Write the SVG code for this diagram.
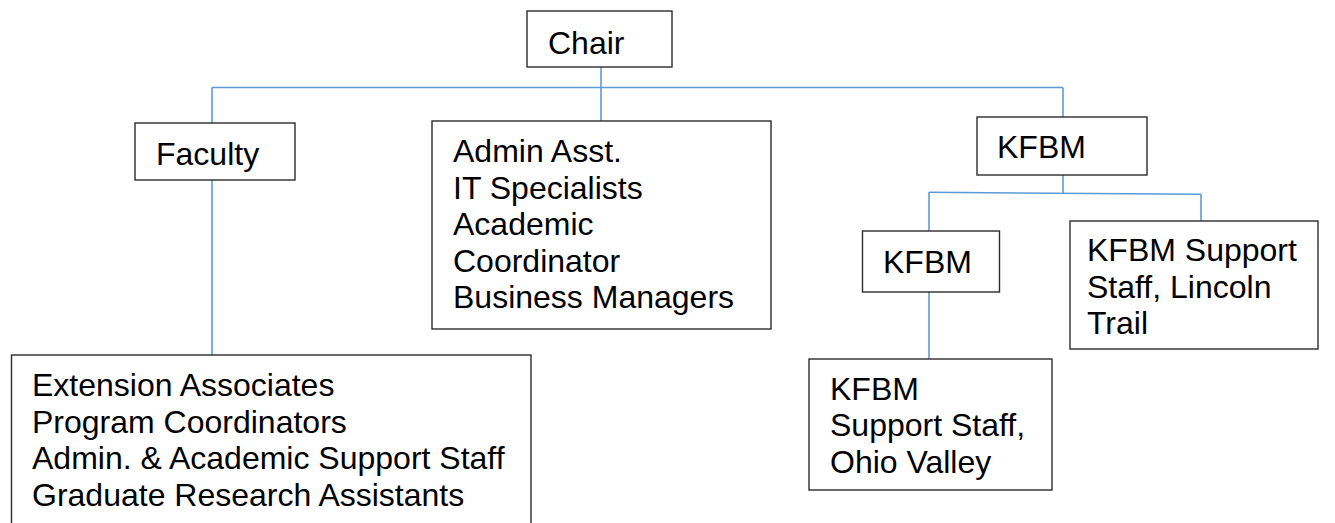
<svg xmlns="http://www.w3.org/2000/svg" width="1335" height="523" viewBox="0 0 1335 523">
  <style>
    .box { fill: #ffffff; stroke: #2b2b2b; stroke-width: 1.4; }
    .lbl { font-family: "Liberation Sans", Arial, sans-serif; font-size: 32px; fill: #000000; }
    .conn { stroke: #5b9bd5; stroke-width: 1.6; fill: none; }
  </style>
  <rect width="1335" height="523" fill="#ffffff"/>

  <!-- connectors -->
  <g id="connectors">
    <line class="conn" x1="601" y1="67" x2="601" y2="121"/>
    <line class="conn" x1="212" y1="87.5" x2="1063" y2="87.5"/>
    <line class="conn" x1="212" y1="87.5" x2="212" y2="123"/>
    <line class="conn" x1="1063" y1="87.5" x2="1063" y2="120"/>
    <line class="conn" x1="212" y1="180" x2="212" y2="355"/>
    <line class="conn" x1="1063" y1="175" x2="1063" y2="193"/>
    <line class="conn" x1="929" y1="192.3" x2="1201" y2="194.3"/>
    <line class="conn" x1="929" y1="192.3" x2="929" y2="231"/>
    <line class="conn" x1="1201" y1="194.3" x2="1201" y2="224"/>
    <line class="conn" x1="929" y1="292" x2="929" y2="359"/>
  </g>

  <!-- top of the chart -->
  <g id="chair">
    <rect class="box" x="527" y="11" width="145" height="56"/>
    <text class="lbl" x="548" y="54">Chair</text>
  </g>

  <g id="faculty">
    <rect class="box" x="135" y="123" width="160" height="57"/>
    <text class="lbl" x="156" y="165">Faculty</text>
  </g>

  <g id="staff">
    <rect class="box" x="432" y="121" width="339" height="208"/>
    <text class="lbl" x="453" y="162">Admin Asst.</text>
    <text class="lbl" x="453" y="198.5">IT Specialists</text>
    <text class="lbl" x="453" y="235">Academic</text>
    <text class="lbl" x="453" y="271.5">Coordinator</text>
    <text class="lbl" x="453" y="308">Business Managers</text>
  </g>

  <g id="kfbm">
    <rect class="box" x="977" y="117" width="170" height="58"/>
    <text class="lbl" x="997" y="158">KFBM</text>
  </g>

  <g id="faculty-support">
    <rect class="box" x="11.5" y="355" width="519.5" height="180"/>
    <text class="lbl" x="32" y="396">Extension Associates</text>
    <text class="lbl" x="32" y="432.7">Program Coordinators</text>
    <text class="lbl" x="32" y="469.4">Admin. &amp; Academic Support Staff</text>
    <text class="lbl" x="32" y="506">Graduate Research Assistants</text>
  </g>

  <g id="kfbm-ohio-valley">
    <rect class="box" x="862.5" y="231" width="137" height="61"/>
    <text class="lbl" x="883" y="273">KFBM</text>
  </g>

  <g id="kfbm-lincoln-trail">
    <rect class="box" x="1070" y="221" width="248" height="128"/>
    <text class="lbl" x="1087" y="261">KFBM Support</text>
    <text class="lbl" x="1087" y="297.5">Staff, Lincoln</text>
    <text class="lbl" x="1087" y="334">Trail</text>
  </g>

  <g id="ohio-valley-staff">
    <rect class="box" x="809" y="359" width="243" height="131"/>
    <text class="lbl" x="830" y="399.5">KFBM</text>
    <text class="lbl" x="830" y="436">Support Staff,</text>
    <text class="lbl" x="830" y="472.5">Ohio Valley</text>
  </g>
</svg>
